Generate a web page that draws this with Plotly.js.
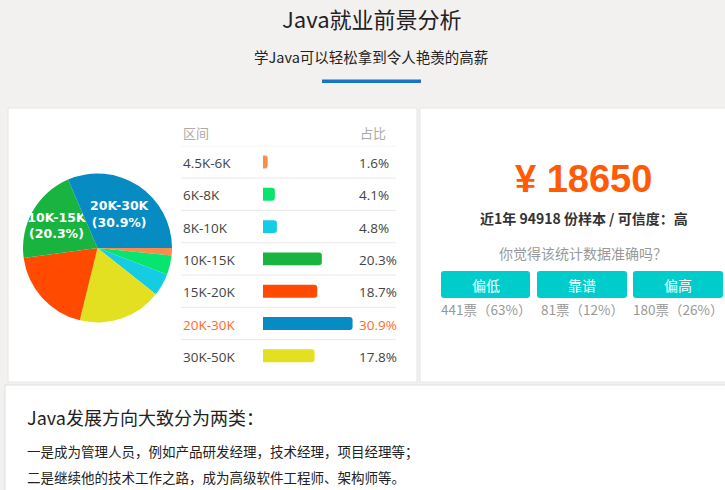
<!DOCTYPE html>
<html>
<head>
<meta charset="utf-8">
<script src="https://cdn.plot.ly/plotly-3.0.1.min.js"></script>
<style>
html,body{margin:0;padding:0;background:#f2f1f0;}
#chart{width:725px;height:490px;}
</style>
</head>
<body>
<div id="chart"></div>
<script>
// ---- data ----
const ranges = ['4.5K-6K', '6K-8K', '8K-10K', '10K-15K', '15K-20K', '20K-30K', '30K-50K'];
const shares = [1.6, 4.1, 4.8, 20.3, 18.7, 30.9, 17.8];
const rangeColors = ['#fe8a4d', '#08e56f', '#14cde3', '#19b33f', '#ff4a00', '#068bc2', '#e2e020'];
const pieOrder = ['4.5K-6K', '6K-8K', '8K-10K', '30K-50K', '15K-20K', '10K-15K', '20K-30K'];
const avgSalary = 18650;
const sampleCount = 94918;
const credibility = '高';
const voteButtons = ['偏低', '靠谱', '偏高'];
const voteCounts = [441, 81, 180];
const votePercents = [63, 12, 26];
const pageTitle = 'Java就业前景分析';
const pageSubtitle = '学Java可以轻松拿到令人艳羡的高薪';
const noteHeading = 'Java发展方向大致分为两类：';
const noteLines = ['一是成为管理人员，例如产品研发经理，技术经理，项目经理等；', '二是继续他的技术工作之路，成为高级软件工程师、架构师等。'];

// ---- helpers ----
const W = 725, H = 490;
const px = x => x / W;
const py = y => 1 - y / H;
const CJK = '"Noto Sans CJK SC", "Open Sans", sans-serif';
const LAT = '"Open Sans", "Noto Sans CJK SC", sans-serif';

const maxIdx = shares.indexOf(Math.max(...shares));

// pie built from the same arrays
const pieValues = pieOrder.map(l => shares[ranges.indexOf(l)]);
const pieColors = pieOrder.map(l => rangeColors[ranges.indexOf(l)]);
const pieTemplates = pieValues.map(v => v >= 20 ? '%{label}<br>(%{customdata}%)' : '');

const pie = {
  type: 'pie',
  labels: pieOrder,
  values: pieValues,
  customdata: pieValues,
  sort: false,
  direction: 'clockwise',
  rotation: 90,
  marker: {colors: pieColors, line: {width: 0}},
  texttemplate: pieTemplates,
  textposition: 'inside',
  insidetextorientation: 'horizontal',
  textfont: {color: '#ffffff', size: 12.5, family: '"DejaVu Sans", sans-serif', weight: 'bold'},
  domain: {x: [px(23), px(172)], y: [py(323), py(173)]},
  showlegend: false,
  hoverinfo: 'none'
};

const bars = {
  type: 'bar',
  orientation: 'h',
  x: shares,
  y: ranges,
  xaxis: 'x',
  yaxis: 'y',
  marker: {color: rangeColors, cornerradius: 3},
  showlegend: false,
  hoverinfo: 'none'
};

// rounded rectangle path in paper coordinates from pixel box
function roundRect(x0, y0, x1, y1, r) {
  const X = v => px(v).toFixed(5), Y = v => py(v).toFixed(5);
  return 'M' + X(x0 + r) + ',' + Y(y0) +
    ' L' + X(x1 - r) + ',' + Y(y0) + ' Q' + X(x1) + ',' + Y(y0) + ' ' + X(x1) + ',' + Y(y0 + r) +
    ' L' + X(x1) + ',' + Y(y1 - r) + ' Q' + X(x1) + ',' + Y(y1) + ' ' + X(x1 - r) + ',' + Y(y1) +
    ' L' + X(x0 + r) + ',' + Y(y1) + ' Q' + X(x0) + ',' + Y(y1) + ' ' + X(x0) + ',' + Y(y1 - r) +
    ' L' + X(x0) + ',' + Y(y0 + r) + ' Q' + X(x0) + ',' + Y(y0) + ' ' + X(x0 + r) + ',' + Y(y0) + ' Z';
}

const shapes = [];
// page panels
shapes.push({type: 'rect', xref: 'paper', yref: 'paper', x0: px(8), x1: px(417), y0: py(382), y1: py(108),
  fillcolor: '#ffffff', line: {color: '#e6e6e6', width: 1}, layer: 'below'});
shapes.push({type: 'rect', xref: 'paper', yref: 'paper', x0: px(420), x1: px(730), y0: py(382), y1: py(108),
  fillcolor: '#ffffff', line: {color: '#e6e6e6', width: 1}, layer: 'below'});
shapes.push({type: 'rect', xref: 'paper', yref: 'paper', x0: px(5), x1: px(730), y0: py(495), y1: py(385),
  fillcolor: '#ffffff', line: {color: '#dedede', width: 1}, layer: 'below'});
// blue underline
shapes.push({type: 'rect', xref: 'paper', yref: 'paper', x0: px(322), x1: px(421), y0: py(83), y1: py(79.5),
  fillcolor: '#1a73c4', line: {width: 0}, layer: 'below'});
// table separators
for (let i = 0; i < ranges.length; i++) {
  shapes.push({type: 'line', xref: 'paper', yref: 'y', x0: px(181), x1: px(396), y0: i - 0.5, y1: i - 0.5,
    line: {color: '#e9e9e9', width: 1}, layer: 'below'});
}
// vote buttons
const btnX = [[441, 530], [537, 627], [633, 723]];
voteButtons.forEach((b, i) => {
  shapes.push({type: 'path', xref: 'paper', yref: 'paper', path: roundRect(btnX[i][0], 271, btnX[i][1], 298, 3),
    fillcolor: '#00cdcb', line: {width: 0}, layer: 'below'});
});

const ann = [];
const A = (o) => ann.push(Object.assign({xref: 'paper', yref: 'paper', showarrow: false, xanchor: 'center', yanchor: 'middle'}, o));

A({x: px(372), y: py(18), text: pageTitle, font: {family: CJK, size: 22, color: '#222'}});
A({x: px(371), y: py(56), text: pageSubtitle, font: {family: CJK, size: 14.5, color: '#222'}});

// table header
A({x: px(181), y: py(132), xanchor: 'left', text: '区间', font: {family: CJK, size: 13, color: '#aaa'}});
A({x: px(358), y: py(132), xanchor: 'left', text: '占比', font: {family: CJK, size: 13, color: '#aaa'}});
ranges.forEach((r, i) => {
  const c = i === maxIdx ? '#ff6a2b' : '#444';
  ann.push({xref: 'paper', yref: 'y', x: px(181), y: i, yshift: -1, xanchor: 'left', yanchor: 'middle', showarrow: false,
    text: r, font: {family: LAT, size: 13.5, color: c}});
  ann.push({xref: 'paper', yref: 'y', x: px(357), y: i, yshift: -1, xanchor: 'left', yanchor: 'middle', showarrow: false,
    text: shares[i].toFixed(1) + '%', font: {family: LAT, size: 13.5, color: c}});
});

// right panel
A({x: px(583), y: py(179), text: '¥ ' + avgSalary, font: {family: '"Liberation Sans", Arial, sans-serif', size: 38, color: '#ff5a06', weight: 'bold'}});
A({x: px(584), y: py(218), text: '<b>近1年 ' + sampleCount + ' 份样本 / 可信度：' + credibility + '</b>', font: {family: CJK, size: 14, color: '#333'}});
A({x: px(583), y: py(253), text: '你觉得该统计数据准确吗？', font: {family: CJK, size: 14, color: '#999'}});
voteButtons.forEach((b, i) => {
  const cx = (btnX[i][0] + btnX[i][1]) / 2;
  A({x: px(cx), y: py(284.5), text: b, font: {family: CJK, size: 14, color: '#ffffff'}});
  A({x: px(cx), y: py(309), text: voteCounts[i] + '票（' + votePercents[i] + '%）', font: {family: CJK, size: 13.5, color: '#999'}});
});

// bottom notes
A({x: px(25), y: py(417), xanchor: 'left', text: noteHeading, font: {family: CJK, size: 18, color: '#222'}});
noteLines.forEach((t, i) => {
  A({x: px(25), y: py(451 + 25.5 * i), xanchor: 'left', text: t, font: {family: CJK, size: 13.5, color: '#222'}});
});

const rowTop = 145.85, rowH = 32.3;
const layout = {
  width: W, height: H,
  margin: {l: 0, r: 0, t: 0, b: 0, pad: 0},
  paper_bgcolor: '#f2f1f0',
  plot_bgcolor: 'rgba(0,0,0,0)',
  bargap: 0.6,
  uniformtext: {minsize: 12.5, mode: 'show'},
  xaxis: {domain: [px(263), px(363)], range: [0, 34.5], visible: false, fixedrange: true},
  yaxis: {domain: [py(rowTop + rowH * ranges.length), py(rowTop)], type: 'category', categoryorder: 'array', categoryarray: ranges,
    range: [ranges.length - 0.5, -0.5], visible: false, fixedrange: true},
  shapes: shapes,
  annotations: ann,
  showlegend: false
};

Plotly.newPlot('chart', [bars, pie], layout, {staticPlot: true, displayModeBar: false});
</script>
</body>
</html>
